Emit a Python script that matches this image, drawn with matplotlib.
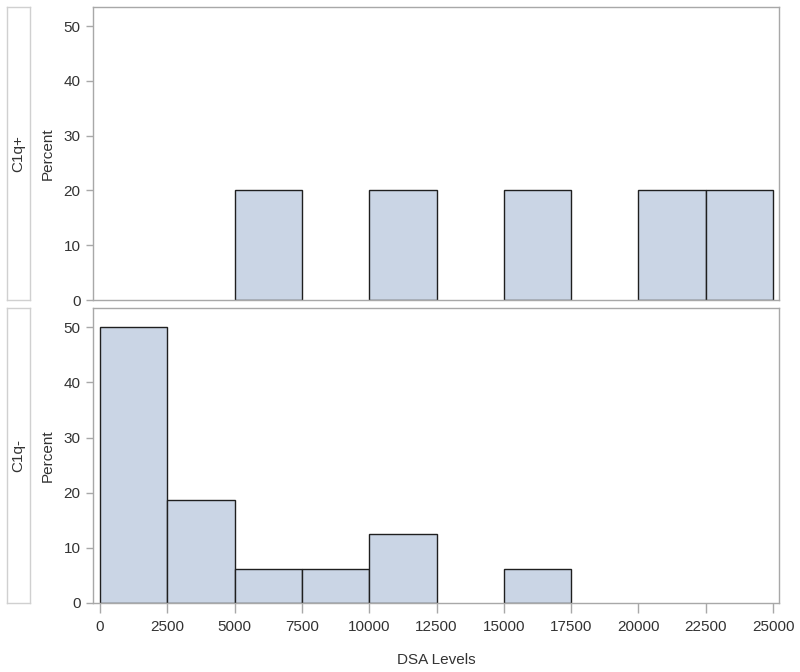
import matplotlib
matplotlib.use("Agg")
import matplotlib.pyplot as plt

bin_edges = [0, 2500, 5000, 7500, 10000, 12500, 15000, 17500, 20000, 22500, 25000]
c1q_pos = [0, 0, 20, 0, 20, 0, 20, 0, 20, 20]
c1q_neg = [50, 18.75, 6.25, 6.25, 12.5, 0, 6.25, 0, 0, 0]
panel_labels = ["C1q+", "C1q-"]
y_ticks = [0, 10, 20, 30, 40, 50]
x_ticks = [0, 2500, 5000, 7500, 10000, 12500, 15000, 17500, 20000, 22500, 25000]

plt.rcParams["font.family"] = ["Liberation Sans", "DejaVu Sans"]

W, H = 800, 672
fig = plt.figure(figsize=(W / 100, H / 100), dpi=100)

fill = "#CAD5E5"
edge = "#1f1f1f"
frame = "#A8A8A8"
txt = "#333333"
fs = 11

def ax_rect(l, t, r, b):
    return [l / W, 1 - b / H, (r - l) / W, (b - t) / H]

panels = [(7, 300, c1q_pos), (308, 603, c1q_neg)]
for i, (t, b, vals) in enumerate(panels):
    ax = fig.add_axes(ax_rect(93, t, 779, b))
    lefts = [bin_edges[k] for k in range(len(vals)) if vals[k] > 0]
    widths = [bin_edges[k + 1] - bin_edges[k] for k in range(len(vals)) if vals[k] > 0]
    heights = [v for v in vals if v > 0]
    ax.bar(lefts, heights, width=widths, align="edge", color=fill,
           edgecolor=edge, linewidth=1.0)
    ax.set_xlim(-260, 25220)
    ax.set_ylim(0, 53.5)
    ax.set_yticks(y_ticks)
    ax.set_xticks(x_ticks)
    for s in ax.spines.values():
        s.set_color(frame)
        s.set_linewidth(1.0)
    ax.tick_params(axis="y", colors=frame, labelcolor=txt, labelsize=fs, length=5, width=1, pad=4)
    ax.tick_params(axis="x", colors=frame, labelcolor=txt, labelsize=fs, length=7, width=1, pad=5)
    ax.set_ylabel("Percent", fontsize=fs, color=txt)
    ax.yaxis.set_label_coords((55 - 93) / 686, 0.5)
    if i == 0:
        ax.tick_params(axis="x", bottom=False, labelbottom=False)
    else:
        ax.set_xlabel("DSA Levels", fontsize=fs, color=txt, labelpad=14)
    sax = fig.add_axes(ax_rect(7, t, 30, b))
    sax.set_xticks([]); sax.set_yticks([])
    for s in sax.spines.values():
        s.set_color("#D0D0D0")
        s.set_linewidth(1.0)
    sax.text(0.5, 0.5, panel_labels[i], rotation=90, ha="center", va="center",
             fontsize=fs, color=txt, transform=sax.transAxes)

fig.savefig("out.png", dpi=100)
